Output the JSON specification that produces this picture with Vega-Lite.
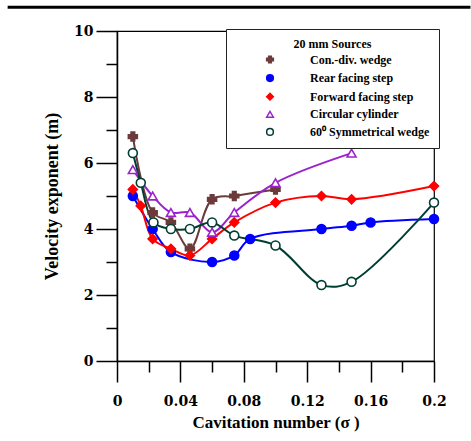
{
  "$schema": "https://vega.github.io/schema/vega-lite/v6.json",
  "width": 317,
  "height": 330,
  "autosize": {"type": "none"},
  "padding": {"left": 117, "top": 31, "right": 37, "bottom": 80},
  "background": "white",
  "config": {
    "view": {"stroke": "#000", "strokeWidth": 1.2},
    "font": "Liberation Serif"
  },
  "data": {
    "values": [
      {"series": "Con.-div. wedge", "sigma": 0.01, "v": 6.8},
      {"series": "Con.-div. wedge", "sigma": 0.0225, "v": 4.5},
      {"series": "Con.-div. wedge", "sigma": 0.034, "v": 4.2},
      {"series": "Con.-div. wedge", "sigma": 0.046, "v": 3.4},
      {"series": "Con.-div. wedge", "sigma": 0.06, "v": 4.9},
      {"series": "Con.-div. wedge", "sigma": 0.074, "v": 5.0},
      {"series": "Con.-div. wedge", "sigma": 0.1, "v": 5.2},
      {"series": "Rear facing step", "sigma": 0.01, "v": 5.0},
      {"series": "Rear facing step", "sigma": 0.0225, "v": 4.0},
      {"series": "Rear facing step", "sigma": 0.034, "v": 3.3},
      {"series": "Rear facing step", "sigma": 0.06, "v": 3.0},
      {"series": "Rear facing step", "sigma": 0.074, "v": 3.2},
      {"series": "Rear facing step", "sigma": 0.084, "v": 3.7},
      {"series": "Rear facing step", "sigma": 0.129, "v": 4.0},
      {"series": "Rear facing step", "sigma": 0.148, "v": 4.1},
      {"series": "Rear facing step", "sigma": 0.16, "v": 4.2},
      {"series": "Rear facing step", "sigma": 0.2, "v": 4.3},
      {"series": "Forward facing step", "sigma": 0.01, "v": 5.2},
      {"series": "Forward facing step", "sigma": 0.015, "v": 4.7},
      {"series": "Forward facing step", "sigma": 0.0225, "v": 3.7},
      {"series": "Forward facing step", "sigma": 0.034, "v": 3.4},
      {"series": "Forward facing step", "sigma": 0.046, "v": 3.2},
      {"series": "Forward facing step", "sigma": 0.06, "v": 3.7},
      {"series": "Forward facing step", "sigma": 0.074, "v": 4.2},
      {"series": "Forward facing step", "sigma": 0.1, "v": 4.8},
      {"series": "Forward facing step", "sigma": 0.129, "v": 5.0},
      {"series": "Forward facing step", "sigma": 0.148, "v": 4.9},
      {"series": "Forward facing step", "sigma": 0.2, "v": 5.3},
      {"series": "Circular cylinder", "sigma": 0.01, "v": 5.8},
      {"series": "Circular cylinder", "sigma": 0.0225, "v": 5.0},
      {"series": "Circular cylinder", "sigma": 0.034, "v": 4.5},
      {"series": "Circular cylinder", "sigma": 0.046, "v": 4.5},
      {"series": "Circular cylinder", "sigma": 0.06, "v": 3.9},
      {"series": "Circular cylinder", "sigma": 0.074, "v": 4.5},
      {"series": "Circular cylinder", "sigma": 0.1, "v": 5.4},
      {"series": "Circular cylinder", "sigma": 0.148, "v": 6.3},
      {"series": "60⁰ Symmetrical wedge", "sigma": 0.01, "v": 6.3},
      {"series": "60⁰ Symmetrical wedge", "sigma": 0.015, "v": 5.4},
      {"series": "60⁰ Symmetrical wedge", "sigma": 0.023, "v": 4.2},
      {"series": "60⁰ Symmetrical wedge", "sigma": 0.034, "v": 4.0},
      {"series": "60⁰ Symmetrical wedge", "sigma": 0.046, "v": 4.0},
      {"series": "60⁰ Symmetrical wedge", "sigma": 0.06, "v": 4.2},
      {"series": "60⁰ Symmetrical wedge", "sigma": 0.074, "v": 3.8},
      {"series": "60⁰ Symmetrical wedge", "sigma": 0.1, "v": 3.5},
      {"series": "60⁰ Symmetrical wedge", "sigma": 0.129, "v": 2.3},
      {"series": "60⁰ Symmetrical wedge", "sigma": 0.148, "v": 2.4},
      {"series": "60⁰ Symmetrical wedge", "sigma": 0.2, "v": 4.8}
    ]
  },
  "resolve": {"axis": {"x": "independent", "y": "independent"}},
  "layer": [
    {
      "mark": {"type": "line", "interpolate": "catmull-rom", "strokeWidth": 2},
      "encoding": {
        "x": {
          "field": "sigma",
          "type": "quantitative",
          "scale": {"domain": [0, 0.2], "nice": false, "zero": false},
          "axis": {
            "orient": "bottom",
            "offset": 0,
            "title": "Cavitation number (σ )",
            "values": [0, 0.04, 0.08, 0.12, 0.16, 0.2],
            "tickSize": 21,
            "labelExpr": "format(datum.value, '~g')",
            "labelFont": "DejaVu Serif",
            "labelFontWeight": "bold",
            "labelFontSize": 14,
            "labelColor": "black",
            "labelPadding": 12,
            "labelFlush": false,
            "labelOverlap": false,
            "domainColor": "black",
            "domainWidth": 1.5,
            "tickColor": "black",
            "tickWidth": 1.5,
            "grid": false,
            "titleFont": "Liberation Serif",
            "titleFontSize": 17,
            "titleFontWeight": "bold",
            "titleColor": "black",
            "titlePadding": 6
          }
        },
        "y": {
          "field": "v",
          "type": "quantitative",
          "scale": {"domain": [0, 10], "nice": false},
          "axis": {
            "orient": "left",
            "offset": 0,
            "title": "Velocity exponent (m)",
            "values": [0, 2, 4, 6, 8, 10],
            "tickSize": 21,
            "labelFont": "DejaVu Serif",
            "labelFontWeight": "bold",
            "labelFontSize": 14,
            "labelColor": "black",
            "labelPadding": 3,
            "labelFlush": false,
            "labelOverlap": false,
            "domainColor": "black",
            "domainWidth": 1.5,
            "tickColor": "black",
            "tickWidth": 1.5,
            "grid": false,
            "titleFont": "Liberation Serif",
            "titleFontSize": 18,
            "titleFontWeight": "bold",
            "titleColor": "black",
            "titlePadding": 12
          }
        },
        "color": {
          "field": "series",
          "type": "nominal",
          "scale": {
            "range": ["#003d33", "#9b22cc", "#6b3b3b", "#ff0000", "#0000ff"]
          },
          "legend": null
        }
      }
    },
    {
      "mark": {"type": "point", "opacity": 1, "strokeWidth": 1.6, "size": 80},
      "encoding": {
        "x": {
          "field": "sigma",
          "type": "quantitative",
          "axis": {
            "orient": "bottom",
            "offset": 0,
            "title": null,
            "values": [0.02, 0.06, 0.1, 0.14, 0.18],
            "tickSize": 11,
            "labels": false,
            "domain": false,
            "tickColor": "black",
            "tickWidth": 1.5,
            "grid": false,
            "zindex": 2
          }
        },
        "y": {
          "field": "v",
          "type": "quantitative",
          "axis": {
            "orient": "left",
            "offset": 0,
            "title": null,
            "values": [1, 3, 5, 7, 9],
            "tickSize": 11,
            "labels": false,
            "domain": false,
            "tickColor": "black",
            "tickWidth": 1.5,
            "grid": false,
            "zindex": 2
          }
        },
        "stroke": {
          "field": "series",
          "type": "nominal",
          "title": "20 mm Sources",
          "scale": {
            "domain": ["Con.-div. wedge", "Rear facing step", "Forward facing step", "Circular cylinder", "60⁰ Symmetrical wedge"],
            "range": ["#6b3b3b", "#0000ff", "#ff0000", "#9b22cc", "#003d33"]
          },
          "legend": {
            "orient": "none",
            "legendX": 109,
            "legendY": -2,
            "strokeColor": "#222",
            "fillColor": "white",
            "padding": 9.5,
            "titleFont": "Liberation Serif",
            "titleFontSize": 12,
            "titleFontWeight": "bold",
            "titleColor": "black",
            "titleAnchor": "middle",
            "titlePadding": 3,
            "labelFont": "Liberation Serif",
            "labelFontSize": 12,
            "labelFontWeight": "bold",
            "labelColor": "black",
            "labelOffset": 34,
            "labelLimit": 300,
            "symbolOffset": 28.5,
            "symbolSize": 45,
            "symbolStrokeWidth": 1.5,
            "rowPadding": 4.6
          }
        },
        "fill": {
          "field": "series",
          "type": "nominal",
          "title": "20 mm Sources",
          "scale": {
            "domain": ["Con.-div. wedge", "Rear facing step", "Forward facing step", "Circular cylinder", "60⁰ Symmetrical wedge"],
            "range": ["#6b3b3b", "#0000ff", "#ff0000", "white", "white"]
          }
        },
        "shape": {
          "field": "series",
          "type": "nominal",
          "title": "20 mm Sources",
          "scale": {
            "domain": ["Con.-div. wedge", "Rear facing step", "Forward facing step", "Circular cylinder", "60⁰ Symmetrical wedge"],
            "range": ["cross", "circle", "diamond", "triangle-up", "circle"]
          }
        }
      }
    },
    {
      "data": {"values": [{}]},
      "mark": {"type": "rule", "color": "black", "strokeWidth": 3, "clip": false},
      "encoding": {
        "x": {"datum": -0.069, "type": "quantitative", "axis": null},
        "x2": {"datum": 0.223},
        "y": {"datum": 10.72, "type": "quantitative", "axis": null}
      }
    }
  ]
}
